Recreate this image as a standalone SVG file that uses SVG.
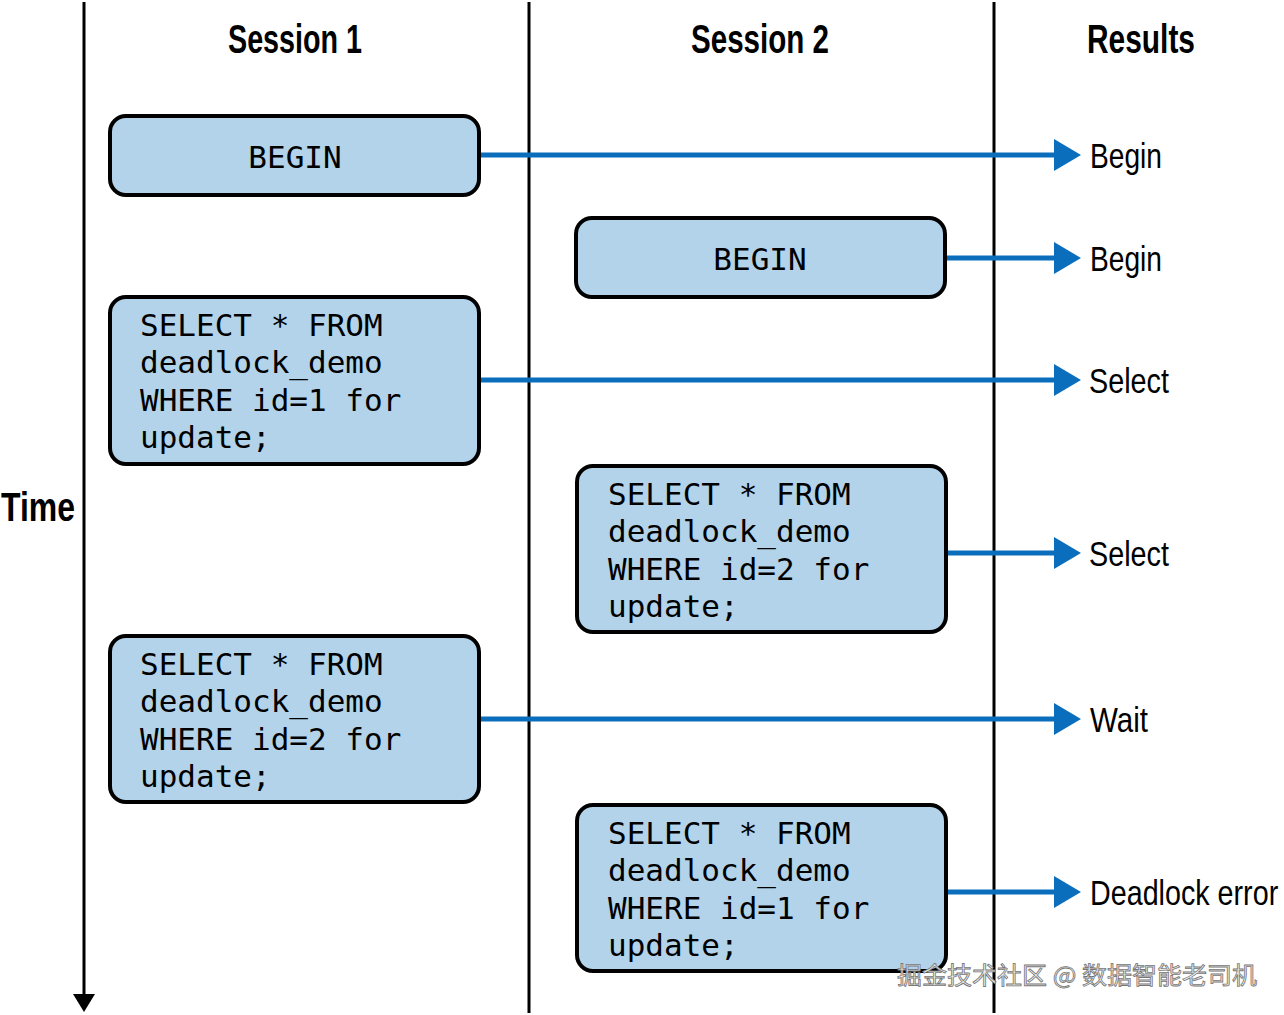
<svg xmlns="http://www.w3.org/2000/svg" width="1284" height="1015" viewBox="0 0 1284 1015">
<style>
.hdr{font-family:"Liberation Sans",Arial,sans-serif;font-size:40px;font-weight:bold;fill:#000}
.res{font-family:"Liberation Sans",Arial,sans-serif;font-size:35px;fill:#000}
.box{fill:#b2d3ea;stroke:#000;stroke-width:4}
.code{font-family:"DejaVu Sans Mono","Liberation Mono",monospace;font-size:31px;fill:#000}
.lane{stroke:#000;stroke-width:3;fill:none}
.conn{stroke:#0a6ebd;stroke-width:5;fill:none}
.head{fill:#0a6ebd}
.wm{font-family:"Noto Sans CJK SC",sans-serif;font-size:24px;fill:#eeeeee;stroke:#777;stroke-width:0.8}
</style>
<g id="lanes">
<line class="lane" x1="84" y1="2" x2="84" y2="996"/>
<polygon points="73,994 95,994 84,1012" fill="#000"/>
<line class="lane" x1="529" y1="2" x2="529" y2="1013"/>
<line class="lane" x1="994" y1="2" x2="994" y2="1013"/>
</g>
<g id="headers">
<text class="hdr" x="228" y="53" textLength="134" lengthAdjust="spacingAndGlyphs">Session 1</text>
<text class="hdr" x="691" y="53" textLength="138" lengthAdjust="spacingAndGlyphs">Session 2</text>
<text class="hdr" x="1087" y="53" textLength="108" lengthAdjust="spacingAndGlyphs">Results</text>
<text class="hdr" x="1" y="521" textLength="74" lengthAdjust="spacingAndGlyphs">Time</text>
</g>
<g id="connectors">
<line class="conn" x1="480" y1="155" x2="1058" y2="155"/>
<polygon class="head" points="1054,139 1081,155 1054,171"/>
<line class="conn" x1="946" y1="258" x2="1058" y2="258"/>
<polygon class="head" points="1054,242 1081,258 1054,274"/>
<line class="conn" x1="480" y1="380" x2="1058" y2="380"/>
<polygon class="head" points="1054,364 1081,380 1054,396"/>
<line class="conn" x1="946" y1="553" x2="1058" y2="553"/>
<polygon class="head" points="1054,537 1081,553 1054,569"/>
<line class="conn" x1="480" y1="719" x2="1058" y2="719"/>
<polygon class="head" points="1054,703 1081,719 1054,735"/>
<line class="conn" x1="946" y1="892" x2="1058" y2="892"/>
<polygon class="head" points="1054,876 1081,892 1054,908"/>
</g>
<g id="s1-begin">
<rect class="box" x="110" y="116" width="369" height="79" rx="16"/>
<text class="code" x="295" y="168" text-anchor="middle">BEGIN</text>
</g>
<g id="s2-begin">
<rect class="box" x="576" y="218" width="369" height="79" rx="16"/>
<text class="code" x="760" y="270" text-anchor="middle">BEGIN</text>
</g>
<g id="s1-select1">
<rect class="box" x="110" y="297" width="369" height="167" rx="16"/>
<text class="code" x="140" y="336">SELECT * FROM</text>
<text class="code" x="140" y="373">deadlock_demo</text>
<text class="code" x="140" y="411">WHERE id=1 for</text>
<text class="code" x="140" y="448">update;</text>
</g>
<g id="s2-select2">
<rect class="box" x="577" y="466" width="369" height="166" rx="16"/>
<text class="code" x="608" y="505">SELECT * FROM</text>
<text class="code" x="608" y="542">deadlock_demo</text>
<text class="code" x="608" y="580">WHERE id=2 for</text>
<text class="code" x="608" y="617">update;</text>
</g>
<g id="s1-select2">
<rect class="box" x="110" y="636" width="369" height="166" rx="16"/>
<text class="code" x="140" y="675">SELECT * FROM</text>
<text class="code" x="140" y="712">deadlock_demo</text>
<text class="code" x="140" y="750">WHERE id=2 for</text>
<text class="code" x="140" y="787">update;</text>
</g>
<g id="s2-select1">
<rect class="box" x="577" y="805" width="369" height="166" rx="16"/>
<text class="code" x="608" y="844">SELECT * FROM</text>
<text class="code" x="608" y="881">deadlock_demo</text>
<text class="code" x="608" y="919">WHERE id=1 for</text>
<text class="code" x="608" y="956">update;</text>
</g>
<g id="results">
<text class="res" x="1090" y="168" textLength="72" lengthAdjust="spacingAndGlyphs">Begin</text>
<text class="res" x="1090" y="271" textLength="72" lengthAdjust="spacingAndGlyphs">Begin</text>
<text class="res" x="1089" y="393" textLength="80" lengthAdjust="spacingAndGlyphs">Select</text>
<text class="res" x="1089" y="566" textLength="80" lengthAdjust="spacingAndGlyphs">Select</text>
<text class="res" x="1090" y="732" textLength="58" lengthAdjust="spacingAndGlyphs">Wait</text>
<text class="res" transform="translate(1090,905) scale(0.82,1)" x="0" y="0">Deadlock error</text>
</g>
<text class="wm" x="897" y="984" textLength="360" lengthAdjust="spacingAndGlyphs">掘金技术社区 @ 数据智能老司机</text>
</svg>
